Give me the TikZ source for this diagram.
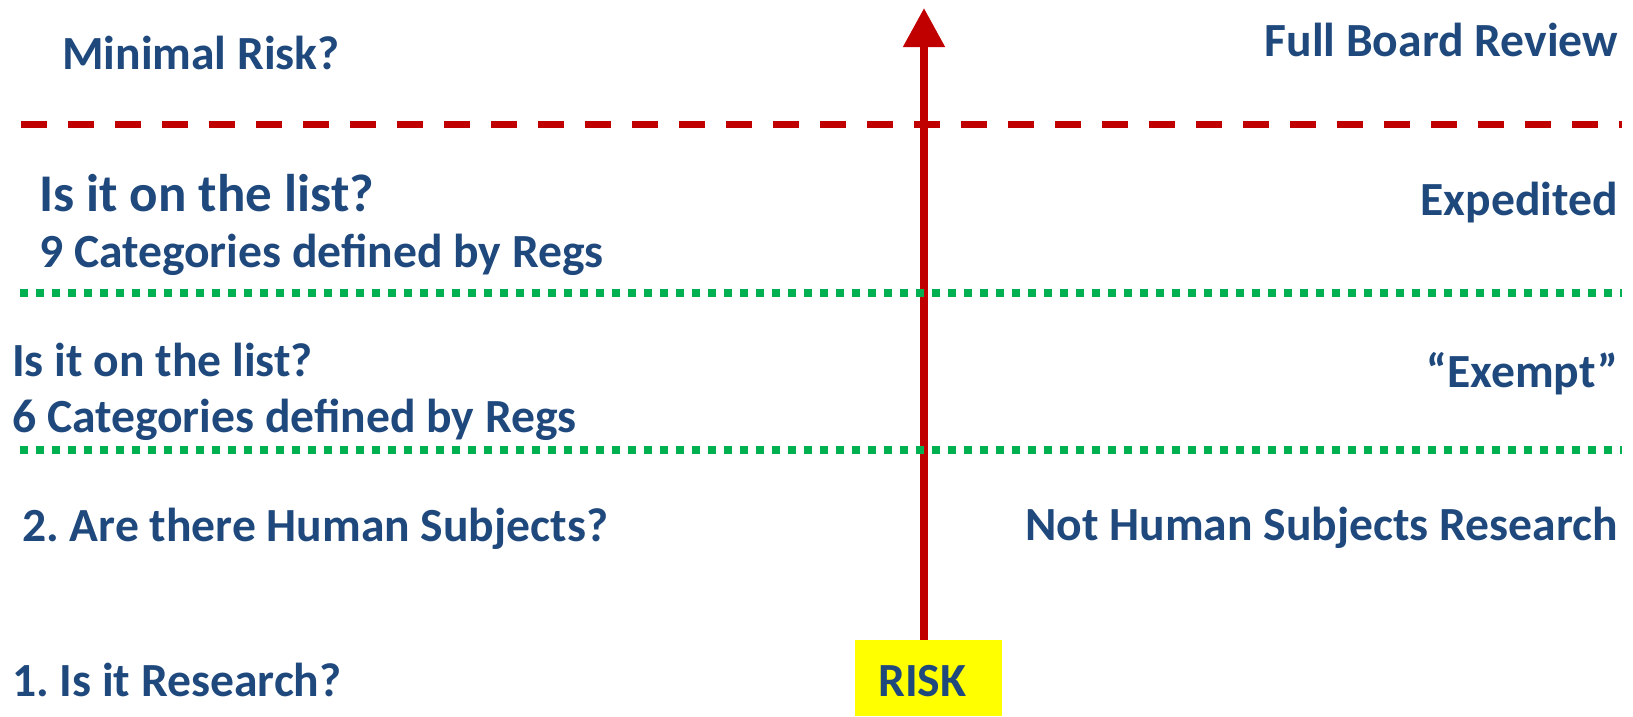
\documentclass[tikz,border=0pt]{standalone}
\usepackage{fontspec}
\setmainfont{Carlito}
\usetikzlibrary{arrows.meta}
\definecolor{txtblue}{HTML}{1F497D}
\definecolor{riskred}{HTML}{C00000}
\definecolor{dotgreen}{HTML}{00B050}
\definecolor{riskyellow}{HTML}{FFFF00}
\frenchspacing
\tikzset{
  lbl/.style={inner sep=0pt, text=txtblue, font=\fontsize{47.6}{56}\selectfont\bfseries},
  biglbl/.style={lbl, font=\fontsize{53}{62}\selectfont\bfseries},
  redline/.style={draw=riskred, line width=7pt, dash pattern=on 26pt off 21pt},
  greenline/.style={draw=dotgreen, line width=7.5pt, dash pattern=on 7.5pt off 8.5pt},
  riskarrow/.style={draw=riskred, line width=8pt, -{Triangle[width=40pt,length=39pt]}},
  riskbox/.style={fill=riskyellow, inner sep=0pt, minimum width=147pt, minimum height=76pt, anchor=north west}
}
\begin{document}
\begin{tikzpicture}[x=1pt,y=-1pt]
\useasboundingbox (0,0) rectangle (1633,716);
% box
\node[riskbox] (riskbox) at (855,640) {};
\node[lbl, anchor=base west] (risk) at (878,696) {RISK};
% arrow
\coordinate (tip) at (924,8);
\draw[riskarrow] (riskbox.north -| tip) -- (tip);
% lines
\coordinate (r1) at (21,124);
\coordinate (r2) at (1622,124);
\draw[redline] (r1) -- (r2);
\coordinate (g1a) at (20,293);
\coordinate (g1b) at (1622,293);
\draw[greenline] (g1a) -- (g1b);
\coordinate (g2a) at (20,450);
\coordinate (g2b) at (1622,450);
\draw[greenline] (g2a) -- (g2b);
% left texts
\node[lbl, anchor=base west] (minrisk) at (62,69) {Minimal Risk?};
\node[biglbl, anchor=base west] (list1) at (39,211) {Is it on the list?};
\node[lbl, anchor=base west] (cat9) at (39,267) {9 Categories defined by Regs};
\node[lbl, anchor=base west] (list2) at (12,376) {Is it on the list?};
\node[lbl, anchor=base west] (cat6) at (12,432) {6 Categories defined by Regs};
\node[lbl, anchor=base west] (human) at (22,541) {2. Are there Human Subjects?};
\node[lbl, anchor=base west] (research) at (12,696) {1. Is it Research?};
% right texts
\node[lbl, anchor=base east] (full) at (1618,56) {Full Board Review};
\node[lbl, anchor=base east] (exped) at (1618,215) {Expedited};
\node[lbl, anchor=base east] (exempt) at (1618,387) {“Exempt”};
\node[lbl, anchor=base east] (nothsr) at (1618,540) {Not Human Subjects Research};
\end{tikzpicture}
\end{document}
